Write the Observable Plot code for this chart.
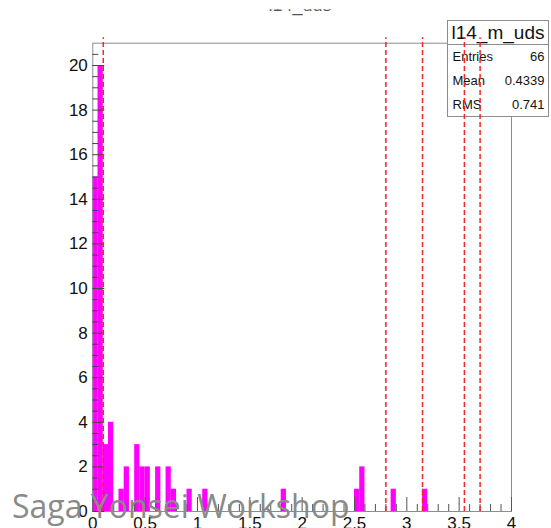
<!DOCTYPE html>
<html><head><meta charset="utf-8">
<script src="https://cdn.jsdelivr.net/npm/d3@7"></script>
<script src="https://cdn.jsdelivr.net/npm/@observablehq/plot@0.6"></script>
<style>
html,body{margin:0;padding:0;background:#fff;}
#chart{position:relative;width:551px;height:528px;overflow:hidden;}
</style></head><body><div id="chart"></div>
<script>
// ---- data ----
const binWidth = 0.05;
const binStart = [0, 0.05, 0.1, 0.15, 0.25, 0.3, 0.4, 0.45, 0.5, 0.6, 0.7, 0.75, 0.9, 1.05, 1.8, 2.5, 2.55, 2.85, 3.15];
const counts   = [15, 20, 3, 4, 1, 2, 3, 2, 2, 2, 2, 1, 1, 1, 1, 1, 2, 1, 1];
const cutLines = [0.1, 2.8, 3.15, 3.55, 3.7];
const xTickLabels = [0, 0.5, 1, 1.5, 2, 2.5, 3, 3.5, 4];
const yTickLabels = [0, 2, 4, 6, 8, 10, 12, 14, 16, 18, 20];
const histName = "l14_m_uds";
const titleText = "l14_uds";
const statNames = ["Entries", "Mean", "RMS"];
const statValues = ["66", "0.4339", "0.741"];
const watermark = "Saga Yonsei Workshop";

// ---- layout ----
const W = 551, H = 528, mL = 92.3, mR = 40, mT = 42.7, mB = 17;
const fw = W - mL - mR, fh = H - mT - mB;
const rootFont = "'Liberation Sans', Arial, Helvetica, sans-serif";

const bins = binStart.map((x, i) => ({x1: x, x2: x + binWidth, y: counts[i]}));
const xMinor = d3.range(0, 41).map(i => i / 10).filter(v => !xTickLabels.some(t => Math.abs(t - v) < 1e-6));
const yMinor = d3.range(0, 42).map(i => i / 2).filter(v => v % 2 !== 0);

function statsBox() {
  const g = d3.create("svg:g").attr("font-family", rootFont).attr("fill", "#111");
  const x0 = 447.5, x1 = 548.5, y0 = 20.5, rowH = 24;
  g.append("rect").attr("x", x0).attr("y", y0).attr("width", x1 - x0).attr("height", rowH * 4)
    .attr("fill", "white").attr("stroke", "#8c8c8c");
  g.append("line").attr("x1", x0).attr("x2", x1).attr("y1", y0 + rowH).attr("y2", y0 + rowH).attr("stroke", "#8c8c8c");
  g.append("text").attr("x", (x0 + x1) / 2).attr("y", y0 + rowH / 2).attr("dy", "0.36em")
    .attr("text-anchor", "middle").attr("font-size", 19).text(histName);
  statNames.forEach((n, i) => {
    const yc = y0 + rowH * (i + 1.5);
    g.append("text").attr("x", x0 + 5).attr("y", yc).attr("dy", "0.36em").attr("font-size", 13)
      .attr("text-anchor", "start").text(n);
    g.append("text").attr("x", x1 - 4).attr("y", yc).attr("dy", "0.36em").attr("font-size", 13)
      .attr("text-anchor", "end").text(statValues[i]);
  });
  return g.node();
}

function topTitle() {
  const g = d3.create("svg:g");
  const id = "titleclip";
  g.append("clipPath").attr("id", id).append("rect").attr("x", 0).attr("y", 9.2).attr("width", W).attr("height", 10);
  g.append("text").attr("clip-path", `url(#${id})`).attr("x", 300).attr("y", 11)
    .attr("text-anchor", "middle").attr("font-family", rootFont).attr("font-size", 18).attr("fill", "#555").text(titleText);
  return g.node();
}

function watermarkText() {
  const g = d3.create("svg:g");
  g.append("text").attr("x", 12).attr("y", 518).attr("text-anchor", "start")
    .attr("font-family", "'Open Sans', 'Noto Sans', sans-serif")
    .attr("font-size", 32).attr("fill", "#8a8a8a").text(watermark);
  return g.node();
}

const chart = Plot.plot({
  width: W, height: H,
  marginLeft: mL, marginRight: mR, marginTop: mT, marginBottom: mB,
  style: {background: "white", fontFamily: rootFont},
  x: {domain: [0, 4]},
  y: {domain: [0, 21]},
  marks: [
    Plot.rectY(bins, {x1: "x1", x2: "x2", y: "y", fill: "#ff00ff"}),
    Plot.frame({stroke: "#8c8c8c"}),
    Plot.tickY(yTickLabels, {y: d => d, stroke: "#444", insetRight: fw - 12}),
    Plot.tickY(yMinor, {y: d => d, stroke: "#444", insetRight: fw - 6}),
    Plot.tickX(xTickLabels, {x: d => d, stroke: "#555", insetTop: fh - 14}),
    Plot.tickX(xMinor, {x: d => d, stroke: "#555", insetTop: fh - 7}),
    Plot.axisY({ticks: yTickLabels, tickSize: 0, tickPadding: 5, label: null, fontSize: 17, fill: "#111"}),
    Plot.axisX({ticks: xTickLabels, tickSize: 0, tickPadding: 5, label: null, fontSize: 17, fill: "#111", tickFormat: d => String(d)}),
    statsBox,
    Plot.ruleX(cutLines, {x: d => d, y1: 0, y2: 21.25, stroke: "#ff2020", strokeWidth: 1.5, strokeDasharray: "5,3"}),
    topTitle,
    watermarkText
  ]
});
document.getElementById("chart").appendChild(chart);
</script>
</body></html>
